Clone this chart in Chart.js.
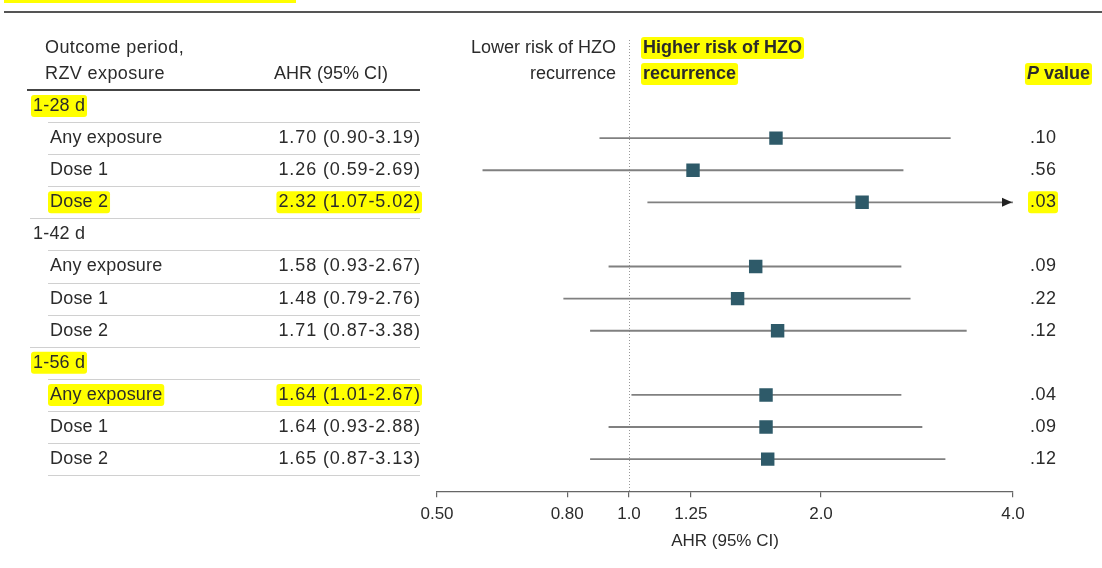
<!DOCTYPE html>
<html>
<head>
<meta charset="utf-8">
<script src="https://cdn.jsdelivr.net/npm/chart.js@4.4.1/dist/chart.umd.min.js"></script>
<style>
  html, body { margin: 0; padding: 0; background: #fff; }
</style>
</head>
<body>
<canvas id="forest" width="1102" height="568"></canvas>
<script>
// rows of the forest plot, top to bottom
const rowLabels = ['1-28 d', 'Any exposure', 'Dose 1', 'Dose 2',
                   '1-42 d', 'Any exposure', 'Dose 1', 'Dose 2',
                   '1-56 d', 'Any exposure', 'Dose 1', 'Dose 2'];
const groupRows = [0, 4, 8];
const ahr    = [null, 1.70, 1.26, 2.32, null, 1.58, 1.48, 1.71, null, 1.64, 1.64, 1.65];
const ciLow  = [null, 0.90, 0.59, 1.07, null, 0.93, 0.79, 0.87, null, 1.01, 0.93, 0.87];
const ciHigh = [null, 3.19, 2.69, 5.02, null, 2.67, 2.76, 3.38, null, 2.67, 2.88, 3.13];
const pValues = [null, '.10', '.56', '.03', null, '.09', '.22', '.12', null, '.04', '.09', '.12'];

// yellow marks in the original figure
const hlLabel = [0, 3, 8, 9];
const hlAhr = [3, 9];
const hlP = [3];

const xTicks = [0.5, 0.8, 1.0, 1.25, 2.0, 4.0];
const xTickLabels = ['0.50', '0.80', '1.0', '1.25', '2.0', '4.0'];

const FONT = '"Liberation Sans", Arial, sans-serif';
const TEXT = '#2b2b2b';
const YELLOW = '#ffff00';

function fontOf(size, weight, style) {
    return (style || '') + ' ' + (weight || 'normal') + ' ' + size + 'px ' + FONT;
}

function drawText(ctx, text, x, y, align, font, hl, spacing) {
    ctx.font = font;
    ctx.letterSpacing = (spacing || 0) + 'px';
    ctx.textBaseline = 'middle';
    ctx.textAlign = 'left';
    const w = ctx.measureText(text).width - (spacing || 0);
    const left = align === 'right' ? x - w : x;
    if (hl) {
        ctx.fillStyle = YELLOW;
        ctx.beginPath();
        ctx.roundRect(left - 2, y - 11, w + 4, 22, 3);
        ctx.fill();
    }
    ctx.fillStyle = TEXT;
    ctx.fillText(text, left, y);
    ctx.letterSpacing = '0px';
}

const decor = {
    id: 'decor',
    beforeDraw(chart) {
        const ctx = chart.ctx;
        const ys = chart.scales.y;
        ctx.save();
        ctx.fillStyle = '#fff';
        ctx.fillRect(0, 0, chart.width, chart.height);

        // cut-off title strip and rule at the very top
        ctx.fillStyle = YELLOW;
        ctx.fillRect(4, 0, 292, 3);
        ctx.fillStyle = '#555';
        ctx.fillRect(4, 11, chart.width - 4, 2);

        // column headers
        const hf = fontOf(18, 'normal');
        drawText(ctx, 'Outcome period,', 45, 48, 'left', hf, false, 0.4);
        drawText(ctx, 'RZV exposure', 45, 74, 'left', hf, false, 0.4);
        drawText(ctx, 'AHR (95% CI)', 388, 74, 'right', hf);
        drawText(ctx, 'Lower risk of HZO', 616, 48, 'right', hf);
        drawText(ctx, 'recurrence', 616, 74, 'right', hf);
        const bf = fontOf(18, 'bold');
        drawText(ctx, 'Higher risk of HZO', 643, 48, 'left', bf, true);
        drawText(ctx, 'recurrence', 643, 74, 'left', bf, true);

        // "P value" with italic P
        ctx.font = bf;
        const wRest = ctx.measureText(' value').width;
        ctx.font = fontOf(18, 'bold', 'italic');
        const wP = ctx.measureText('P').width;
        const px = 1090 - wRest - wP;
        ctx.fillStyle = YELLOW;
        ctx.beginPath();
        ctx.roundRect(px - 2, 63, wP + wRest + 4, 22, 3);
        ctx.fill();
        drawText(ctx, 'P', px, 74, 'left', fontOf(18, 'bold', 'italic'));
        drawText(ctx, ' value', px + wP, 74, 'left', bf);

        // header rule
        ctx.fillStyle = '#444';
        ctx.fillRect(27, 89, 393, 2);

        // table rows
        const rf = fontOf(18, 'normal');
        rowLabels.forEach((label, i) => {
            const y = ys.getPixelForValue(i);
            const isGroup = groupRows.includes(i);
            drawText(ctx, label, isGroup ? 33 : 50, y, 'left', rf, hlLabel.includes(i), 0.2);
            if (ahr[i] != null) {
                const txt = ahr[i].toFixed(2) + ' (' + ciLow[i].toFixed(2) + '-' + ciHigh[i].toFixed(2) + ')';
                drawText(ctx, txt, 420, y, 'right', rf, hlAhr.includes(i), 0.9);
                drawText(ctx, pValues[i], 1030, y, 'left', rf, hlP.includes(i), 0.5);
            }
            const ly = Math.round(ys.getPixelForValue(i + 0.5)) + 0.5;
            const startX = groupRows.includes(i + 1) ? 30 : 48;
            ctx.strokeStyle = '#d0d0d0';
            ctx.lineWidth = 1;
            ctx.beginPath();
            ctx.moveTo(startX, ly);
            ctx.lineTo(420, ly);
            ctx.stroke();
        });
        ctx.restore();
    },
    beforeDatasetsDraw(chart) {
        // dotted line of no effect
        const ctx = chart.ctx;
        const x = Math.round(chart.scales.x.getPixelForValue(1)) + 0.5;
        ctx.save();
        ctx.strokeStyle = '#999';
        ctx.lineWidth = 1;
        ctx.setLineDash([1, 2]);
        ctx.beginPath();
        ctx.moveTo(x, 40);
        ctx.lineTo(x, chart.chartArea.bottom);
        ctx.stroke();
        ctx.restore();
    },
    afterDatasetsDraw(chart) {
        // arrow where the interval runs past the axis
        const ctx = chart.ctx;
        const xs = chart.scales.x;
        const ys = chart.scales.y;
        ctx.save();
        ctx.fillStyle = '#222';
        ciHigh.forEach((hi, i) => {
            if (hi != null && hi > xs.max) {
                const tip = xs.getPixelForValue(xs.max) - 1;
                const y = ys.getPixelForValue(i);
                ctx.beginPath();
                ctx.moveTo(tip, y);
                ctx.lineTo(tip - 10, y - 4.5);
                ctx.lineTo(tip - 10, y + 4.5);
                ctx.closePath();
                ctx.fill();
            }
        });
        ctx.restore();
    }
};

const ciData = [];
const pointData = [];
ahr.forEach((v, i) => {
    if (v == null) return;
    ciData.push({ y: i, x: [ciLow[i], ciHigh[i]] });
    pointData.push({ x: v, y: i });
});

new Chart(document.getElementById('forest'), {
    data: {
        datasets: [
            {
                type: 'scatter',
                data: pointData,
                pointStyle: 'rect',
                pointRadius: 9.5,
                pointHoverRadius: 9.5,
                backgroundColor: '#2e5a69',
                borderWidth: 0,
                order: 0
            },
            {
                type: 'bar',
                indexAxis: 'y',
                data: ciData,
                barThickness: 1.2,
                backgroundColor: '#808080',
                borderWidth: 0,
                clip: 0,
                order: 1
            }
        ]
    },
    options: {
        responsive: false,
        animation: false,
        layout: { padding: { left: 437, right: 89, top: 90, bottom: 16 } },
        plugins: { legend: { display: false }, tooltip: { enabled: false } },
        scales: {
            x: {
                type: 'logarithmic',
                min: 0.5,
                max: 4,
                afterBuildTicks: scale => {
                    scale.ticks = xTicks.map(v => ({ value: v }));
                },
                ticks: {
                    autoSkip: false,
                    maxRotation: 0,
                    padding: 7,
                    color: TEXT,
                    font: { family: FONT, size: 17 },
                    callback: (value, index) => xTickLabels[index]
                },
                grid: { drawOnChartArea: false, drawTicks: true, tickLength: 6, color: '#666', lineWidth: 1.2 },
                border: { display: true, color: '#666', width: 1.2 },
                title: {
                    display: true,
                    text: 'AHR (95% CI)',
                    color: TEXT,
                    font: { family: FONT, size: 17 },
                    padding: { top: 0, bottom: 0 }
                }
            },
            y: {
                type: 'linear',
                min: -0.5,
                max: 12,
                reverse: true,
                offset: false,
                display: false
            }
        }
    },
    plugins: [decor]
});
</script>
</body>
</html>
